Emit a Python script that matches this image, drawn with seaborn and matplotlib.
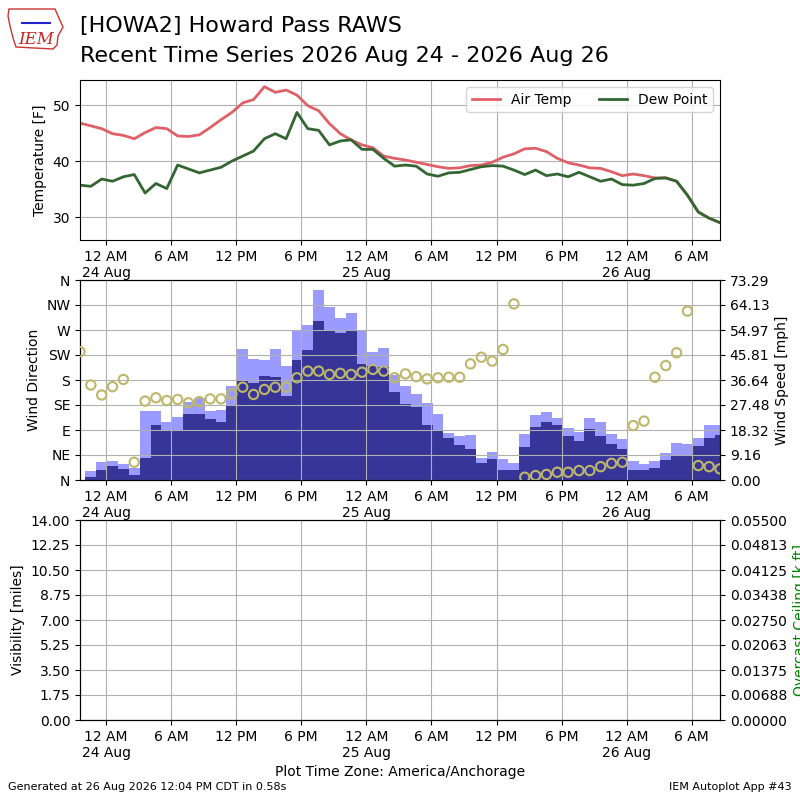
import numpy as np
import pandas as pd
import matplotlib
matplotlib.use("Agg")
import matplotlib.pyplot as plt
import matplotlib.dates as mdates
from matplotlib.ticker import FuncFormatter
from matplotlib.patches import Polygon
import seaborn as sns

# hourly obs, 23 Aug 21:36 -> 26 Aug 08:36 (America/Anchorage)
times = pd.date_range("2026-08-23 21:36", periods=60, freq="h")

tmpf = [46.8, 46.3, 45.8, 44.9, 44.6, 44.0, 45.1, 46.0, 45.8, 44.5,
        44.4, 44.7, 46.0, 47.4, 48.7, 50.4, 51.0, 53.3, 52.3, 52.7,
        51.8, 49.9, 49.0, 46.7, 44.9, 43.8, 42.9, 42.4, 40.9, 40.5,
        40.2, 39.8, 39.4, 39.0, 38.7, 38.8, 39.2, 39.3, 39.8, 40.7,
        41.3, 42.2, 42.3, 41.7, 40.5, 39.7, 39.3, 38.8, 38.7, 38.1,
        37.4, 37.7, 37.4, 37.0, 37.0, 36.4, 33.9, 30.9, 29.8, 29.0]
dwpf = [35.7, 35.5, 36.8, 36.4, 37.2, 37.6, 34.3, 36.0, 35.1, 39.3,
        38.6, 37.9, 38.4, 38.9, 40.0, 40.9, 41.8, 44.0, 44.9, 44.0,
        48.7, 45.8, 45.5, 42.9, 43.6, 43.8, 42.1, 42.1, 40.5, 39.1,
        39.3, 39.1, 37.7, 37.3, 37.9, 38.0, 38.5, 39.0, 39.2, 39.1,
        38.4, 37.6, 38.4, 37.4, 37.7, 37.2, 38.0, 37.2, 36.4, 36.8,
        35.8, 35.7, 36.0, 36.9, 37.0, 36.4, 33.9, 30.9, 29.8, 29.0]
sknt = [0.0, 1.2, 3.7, 5.1, 4.0, 1.8, 8.1, 20.2, 18.2, 18.2,
        24.2, 24.2, 22.4, 21.3, 27.2, 36.3, 35.5, 38.1, 37.7, 30.8,
        44.0, 47.6, 58.3, 55.0, 54.0, 54.7, 42.5, 41.8, 41.4, 32.2,
        27.8, 26.9, 20.2, 18.1, 15.4, 12.9, 11.4, 6.4, 7.7, 3.7,
        3.7, 12.2, 19.5, 21.3, 20.2, 16.2, 14.4, 18.7, 16.2, 13.2,
        11.4, 3.7, 3.7, 4.5, 7.3, 8.9, 8.9, 12.6, 15.4, 16.5]
gust = [0.0, 3.3, 6.6, 7.0, 5.9, 4.3, 25.3, 25.3, 21.3, 23.1,
        28.5, 30.0, 25.3, 25.6, 34.4, 48.0, 44.3, 44.0, 48.0, 41.8,
        54.7, 56.8, 69.8, 63.4, 59.4, 61.2, 54.7, 46.9, 48.4, 38.5,
        34.4, 31.5, 28.2, 24.2, 17.2, 16.1, 16.5, 8.1, 10.3, 7.7,
        6.2, 16.9, 23.8, 24.9, 22.7, 19.1, 17.6, 22.7, 21.3, 16.9,
        15.0, 7.0, 5.9, 7.0, 9.9, 13.6, 13.2, 15.4, 20.0, 20.0]
drct = [231, 171, 153, 168, 181, 32, 142, 148, 143, 145,
        139, 141, 146, 146, 155, 167, 154, 163, 167, 167,
        184, 196, 196, 190, 192, 190, 194, 199, 196, 184,
        191, 186, 182, 184, 185, 185, 209, 221, 214, 235,
        317, 5, 8, 10, 14, 14, 17, 17, 24, 30,
        32, 98, 106, 185, 206, 229, 304, 26, 24, 20]
dir_labels = ["N", "NE", "E", "SE", "S", "SW", "W", "NW", "N"]

df = pd.DataFrame({"valid": times, "tmpf": tmpf, "dwpf": dwpf,
                   "sknt": sknt, "gust": gust, "drct": drct})


def tfmt(x, pos=None):
    d = mdates.num2date(x)
    if d.hour == 0:
        return d.strftime("12 AM\n%d %b")
    h = d.hour % 12 or 12
    return f"{h} {'AM' if d.hour < 12 else 'PM'}"


def setup_x(ax):
    ax.xaxis.set_major_locator(mdates.HourLocator(byhour=[0, 6, 12, 18]))
    ax.xaxis.set_major_formatter(FuncFormatter(tfmt))
    ax.set_xlim(times[0], times[-1])
    ax.set_xlabel("")


fig = plt.figure(figsize=(8, 8), dpi=100)

# header
fig.text(0.1, 0.968, "[HOWA2] Howard Pass RAWS", fontsize=16, va="center")
fig.text(0.1, 0.93, "Recent Time Series 2026 Aug 24 - 2026 Aug 26",
         fontsize=16, va="center")
iowa = [(9, 9), (55, 9), (58, 16), (63, 27), (58, 36), (57, 45), (53, 49),
        (16, 47), (13, 38), (10, 26), (8, 16)]
fig.add_artist(Polygon([(x / 800, 1 - y / 800) for x, y in iowa],
                       closed=True, fill=False, ec="#cc3333", lw=1,
                       transform=fig.transFigure))
fig.add_artist(plt.Line2D([22 / 800, 50 / 800], [1 - 23 / 800, 1 - 23 / 800],
                          color="#2222cc", lw=1.5, transform=fig.transFigure))
fig.text(0.0225, 0.951, "IEM", color="#cc2222", fontsize=12,
         style="italic", family="serif", va="center")

# temperature panel
ax1 = fig.add_axes([0.1, 0.7, 0.8, 0.2])
sns.lineplot(data=df, x="valid", y="tmpf", ax=ax1, color="#e06068",
             lw=2, label="Air Temp")
sns.lineplot(data=df, x="valid", y="dwpf", ax=ax1, color="#336633",
             lw=2, label="Dew Point")
ax1.set_ylim(25.9, 54.5)
ax1.set_ylabel("Temperature [F]")
ax1.grid(True)
ax1.legend(loc="upper right", ncol=2)
setup_x(ax1)

# wind panel
ax2 = fig.add_axes([0.1, 0.4, 0.8, 0.25])
ax2b = ax2.twinx()
ax2b.bar(df["valid"], df["gust"], width=1 / 24., color="#9b9bff")
ax2b.bar(df["valid"], df["sknt"], width=1 / 24., color="#373598")
smax = 73.289
ax2b.set_ylim(0, smax)
ax2b.set_yticks(np.linspace(0, smax, 9))
ax2b.yaxis.set_major_formatter(FuncFormatter(lambda v, p: f"{v:.2f}"))
ax2b.set_ylabel("Wind Speed [mph]")
sns.scatterplot(data=df, x="valid", y="drct", ax=ax2, s=45, zorder=3)
coll = ax2.collections[-1]
coll.set_facecolor("none")
coll.set_edgecolor("#bdb76b")
coll.set_linewidth(1.5)
ax2.set_zorder(ax2b.get_zorder() + 1)
ax2.patch.set_visible(False)
ax2.set_ylim(0, 360)
ax2.set_yticks(np.arange(0, 361, 45))
ax2.set_yticklabels(dir_labels)
ax2.set_ylabel("Wind Direction")
ax2.grid(True)
setup_x(ax2)

# visibility / ceiling panel (no data)
ax3 = fig.add_axes([0.1, 0.1, 0.8, 0.25])
ax3.set_ylim(0, 14)
ax3.set_yticks(np.linspace(0, 14, 9))
ax3.yaxis.set_major_formatter(FuncFormatter(lambda v, p: f"{v:.2f}"))
ax3.set_ylabel("Visibility [miles]")
ax3.grid(True)
setup_x(ax3)
ax3.set_xlabel("Plot Time Zone: America/Anchorage")
ax3b = ax3.twinx()
ax3b.set_ylim(0, 0.055)
ax3b.set_yticks(np.linspace(0, 0.055, 9))
ax3b.yaxis.set_major_formatter(FuncFormatter(lambda v, p: f"{v:.5f}"))
ax3b.set_ylabel("Overcast Ceiling [k ft]", color="g")

fig.text(0.01, 0.012, "Generated at 26 Aug 2026 12:04 PM CDT in 0.58s",
         fontsize=8)
fig.text(0.99, 0.012, "IEM Autoplot App #43", fontsize=8, ha="right")

fig.savefig("out.png", dpi=100)
